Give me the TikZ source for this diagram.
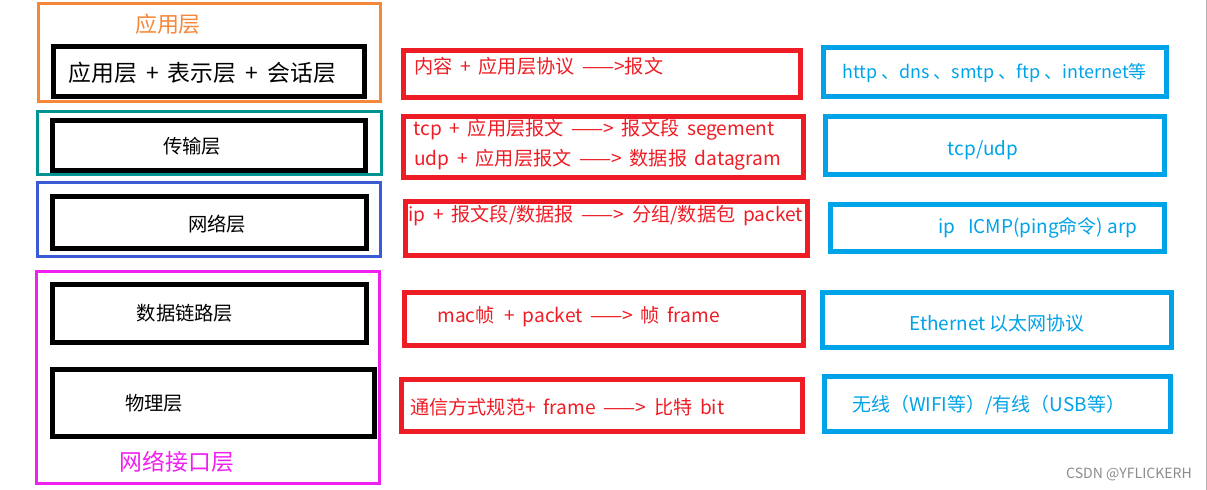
\documentclass[tikz,border=0pt]{standalone}
\usepackage{fontspec}
\setmainfont{Noto Sans CJK SC}
\newfontfamily\widefont{Noto Sans CJK SC}[WordSpace=1.8]
\usepackage{xcolor}
\usepackage{tikz}
\usetikzlibrary{positioning}

\definecolor{apporange}{HTML}{F5873A}
\definecolor{transteal}{HTML}{009393}
\definecolor{netblue}{HTML}{3A5BD4}
\definecolor{linkpink}{HTML}{F020F0}
\definecolor{msgred}{HTML}{EE1C24}
\definecolor{protoblue}{HTML}{00A2E8}

\tikzset{
  blackbox/.style={draw=black, line width=2.8pt},
  redbox/.style={draw=msgred, line width=2.6pt},
  bluebox/.style={draw=protoblue, line width=2.6pt},
  outerbox/.style={draw=#1, line width=1.6pt},
  layertext/.style={font=\fontsize{11}{13}\selectfont, text=black, inner sep=0pt},
  redtext/.style={font=\widefont\fontsize{10.9}{13}\selectfont, text=msgred, inner sep=0pt, anchor=west},
  bluetext/.style={font=\fontsize{10.8}{13}\selectfont, text=protoblue, inner sep=0pt}
}

\begin{document}
\begin{tikzpicture}[x=0.02cm, y=-0.02cm]
\useasboundingbox (0,0) rectangle (1207,490);

% outer layer frames
\draw[outerbox=apporange] (38.5,3.5) rectangle (380.5,101.5);
\draw[outerbox=transteal] (37.5,111.5) rectangle (381.5,174.5);
\draw[outerbox=netblue] (37.5,182.5) rectangle (380.5,256.5);
\draw[outerbox=linkpink] (36.5,271.5) rectangle (379.5,483.5);

% black layer boxes
\foreach \xa/\ya/\xb/\yb in {53.5/46.5/364.5/96.5, 52.5/120.5/365.5/170.5, 52.5/196.5/366.5/248.5,
  52.5/284.5/366.5/342.5, 52.5/369.5/374.5/436.5}
  \draw[blackbox] (\xa,\ya) rectangle (\xb,\yb);

% red boxes
\foreach \xa/\ya/\xb/\yb in {403.5/50.5/800.5/97.5, 403.5/116.5/803.5/177.5, 405.5/201.5/807.5/255.5,
  404.5/292.5/803.5/345.5, 401.5/379.5/802.5/431.5}
  \draw[redbox] (\xa,\ya) rectangle (\xb,\yb);

% blue boxes
\foreach \xa/\ya/\xb/\yb in {823.5/47.5/1166.5/96.5, 825.5/116.5/1164.5/174.5, 830.5/204.5/1164.5/251.5,
  822.5/292.5/1171.5/347.5, 824.5/376.5/1170.5/431.5}
  \draw[bluebox] (\xa,\ya) rectangle (\xb,\yb);

% layer names
\node[inner sep=0pt, text=apporange, font=\fontsize{12.5}{14}\selectfont] (apptitle) at (168,24) {应用层};
\node[layertext, anchor=west, font=\widefont\fontsize{13}{15}\selectfont] (applayers) at (68,73) {应用层 + 表示层 + 会话层};
\node[layertext] (transport) at (192,146) {传输层};
\node[layertext] (network) at (217,224) {网络层};
\node[layertext] (datalink) at (185,313) {数据链路层};
\node[layertext] (physical) at (154,403) {物理层};
\node[inner sep=0pt, text=linkpink, font=\fontsize{13}{15}\selectfont] (ifacetitle) at (177,462) {网络接口层};

% encapsulation
\node[redtext] (appmsg) at (414,66) {内容 + 应用层协议 ——>报文};
\node[redtext] (tcpseg) at (413,130) {tcp + 应用层报文 ——> 报文段 segement};
\node[redtext] (udpgram) at (414,160) {udp + 应用层报文 ——> 数据报 datagram};
\node[redtext] (ippkt) at (408,216) {ip + 报文段/数据报 ——> 分组/数据包 packet};
\node[redtext] (macframe) at (437,317) {mac帧\enspace + packet ——> 帧 frame};
\node[redtext] (phybit) at (410,407) {通信方式规范+ frame ——> 比特 bit};

% protocols
\node[bluetext, anchor=west, font=\fontsize{10.2}{13}\selectfont] (appproto) at (842,73) {http 、dns 、smtp 、ftp 、internet等};
\node[bluetext] (transproto) at (983,150) {tcp/udp};
\node[bluetext, anchor=west] (netproto) at (938,228) {ip\ \ \ ICMP(ping命令) arp};
\node[bluetext] (linkproto) at (997,323) {Ethernet 以太网协议};
\node[bluetext, anchor=west] (phyproto) at (852,405) {无线（WIFI等）/有线（USB等）};

\node[inner sep=0pt, text=black!45, font=\fontsize{8}{10}\selectfont] (mark) at (1129,474) {CSDN @YFLICKERH};
\draw[black!30] (1206,0) -- (1206,490);
\end{tikzpicture}
\end{document}
